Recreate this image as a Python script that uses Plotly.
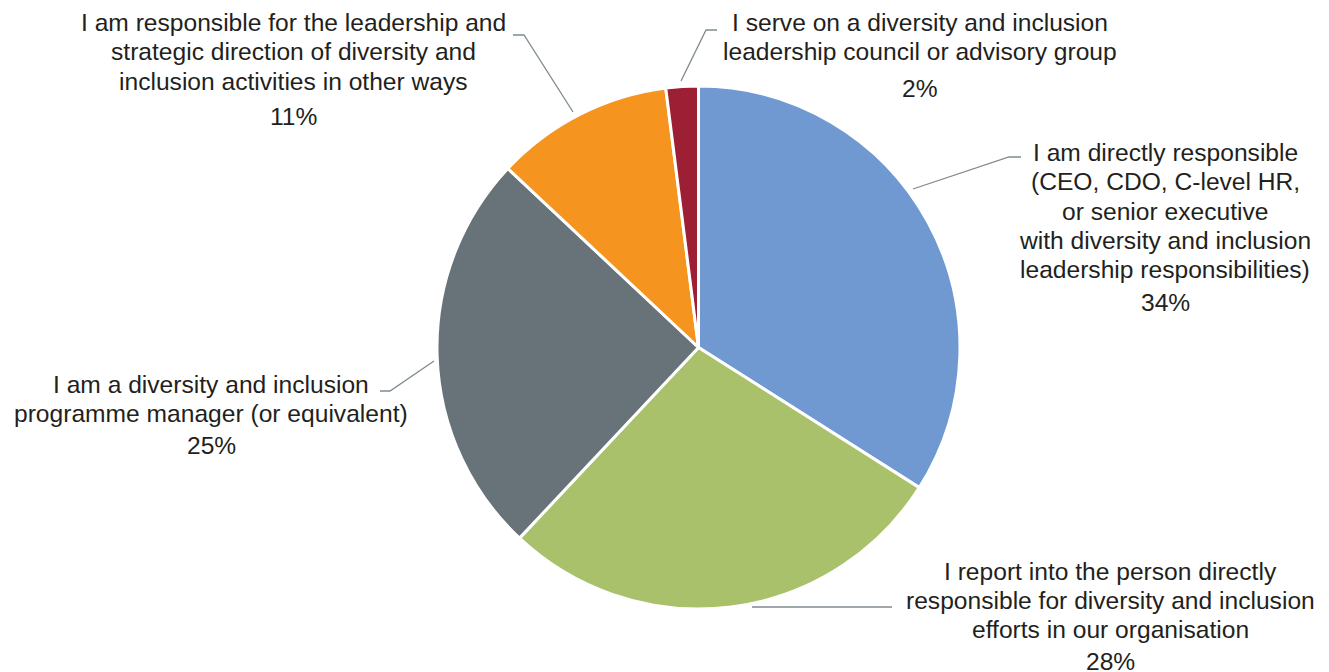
import plotly.graph_objects as go

W, H = 1329, 672

categories = [
    ["I am directly responsible", "(CEO, CDO, C-level HR,", "or senior executive",
     "with diversity and inclusion", "leadership responsibilities)"],
    ["I report into the person directly", "responsible for diversity and inclusion",
     "efforts in our organisation"],
    ["I am a diversity and inclusion", "programme manager (or equivalent)"],
    ["I am responsible for the leadership and", "strategic direction of diversity and",
     "inclusion activities in other ways"],
    ["I serve on a diversity and inclusion", "leadership council or advisory group"],
]
values = [34, 28, 25, 11, 2]
colors = ["#7099D1", "#AAC16B", "#677379", "#F5951F", "#9D1F33"]

# label layout (pixel positions): centre x, first line y, pct y
label_pos = [
    (1165, 153, 302),
    (1110, 571, 661),
    (211, 384, 445),
    (293, 23, 117),
    (920, 23, 89),
]
# leader lines (pixel points)
leaders = [
    [(913, 189), (1009, 157), (1021, 157)],
    [(752, 607), (892, 607)],
    [(434, 361), (390, 391), (380, 391)],
    [(573, 112), (524, 35), (513, 35)],
    [(681, 81), (706, 30), (717, 30)],
]

cx, cy, r = 698.5, 347.5, 261.5

fig = go.Figure(go.Pie(
    values=values,
    labels=[" ".join(c) for c in categories],
    marker=dict(colors=colors, line=dict(color="white", width=3)),
    sort=False,
    direction="clockwise",
    rotation=0,
    textinfo="none",
    hoverinfo="label+percent",
    showlegend=False,
    domain=dict(x=[(cx - r) / W, (cx + r) / W], y=[1 - (cy + r) / H, 1 - (cy - r) / H]),
))

font = dict(family="Liberation Sans, Arial, sans-serif", size=24.6, color="#231F20")
LH = 29.0
annotations = []
for lines, v, (x, y0, yp) in zip(categories, values, label_pos):
    for i, ln in enumerate(lines):
        annotations.append(dict(
            x=x / W, y=1 - (y0 + i * LH) / H, xref="paper", yref="paper",
            text=ln, showarrow=False, align="center",
            xanchor="center", yanchor="middle", font=font,
        ))
    annotations.append(dict(
        x=x / W, y=1 - yp / H, xref="paper", yref="paper",
        text=f"{v}%", showarrow=False, align="center",
        xanchor="center", yanchor="middle", font=font,
    ))

shapes = []
for pts in leaders:
    path = "M " + " L ".join(f"{px / W},{1 - py / H}" for px, py in pts)
    shapes.append(dict(type="path", path=path, xref="paper", yref="paper",
                       line=dict(color="#7F8A90", width=1.3)))

fig.update_layout(
    width=W, height=H,
    margin=dict(l=0, r=0, t=0, b=0),
    paper_bgcolor="white", plot_bgcolor="white",
    annotations=annotations, shapes=shapes,
)

fig.write_html("out.html")
